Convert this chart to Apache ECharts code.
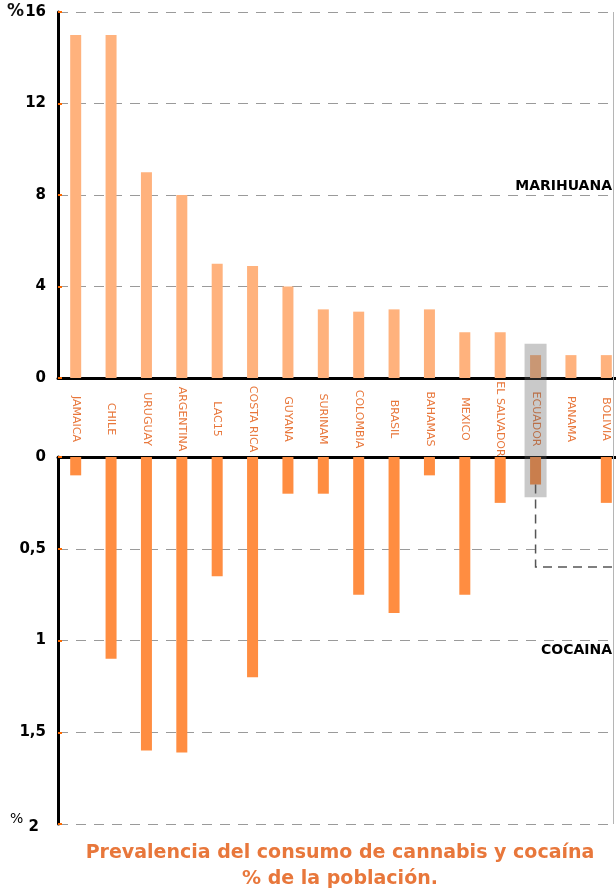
<!DOCTYPE html>
<html>
<head>
<meta charset="utf-8">
<script src="https://cdn.jsdelivr.net/npm/echarts@6/dist/echarts.min.js"></script>
<style>
  html, body { margin: 0; padding: 0; background: #fff; }
  #main { width: 616px; height: 891px; }
</style>
</head>
<body>
<div id="main"></div>
<script>
var categories = ['JAMAICA', 'CHILE', 'URUGUAY', 'ARGENTINA', 'LAC15', 'COSTA RICA', 'GUYANA', 'SURINAM',
    'COLOMBIA', 'BRASIL', 'BAHAMAS', 'MEXICO', 'EL SALVADOR', 'ECUADOR', 'PANAMA', 'BOLIVIA'];
var marihuana = [15, 15, 9, 8, 5, 4.9, 4, 3, 2.9, 3, 3, 2, 2, 1, 1, 1];
var cocaina = [0.1, 1.1, 1.6, 1.61, 0.65, 1.2, 0.2, 0.2, 0.75, 0.85, 0.1, 0.75, 0.25, 0.15, 0, 0.25];
var marihuanaTicks = [0, 16, 4];   // min, max, interval
var cocainaTicks = [0, 2, 0.5];
var highlight = 'ECUADOR';

var font = 'DejaVu Sans';
var orangeLabel = '#E8773B';

var chart = echarts.init(document.getElementById('main'));

var gridLine = { show: true, lineStyle: { color: '#9a9a9a', type: [10, 8], width: 1 } };
var tick = { show: true, inside: true, length: 4, lineStyle: { color: '#FF6A00', width: 2 } };

var option = {
    animation: false,
    textStyle: { fontFamily: font },
    grid: [
        { left: 58, width: 566, top: 12, height: 366, outerBoundsMode: 'none', containLabel: false },
        { left: 58, width: 566, top: 457, height: 367, outerBoundsMode: 'none', containLabel: false }
    ],
    title: {
        text: 'Prevalencia del consumo de cannabis y cocaína\n% de la población.',
        left: 335,
        textAlign: 'center',
        top: 835,
        textStyle: { color: orangeLabel, fontSize: 19, fontWeight: 'bold', fontFamily: font, lineHeight: 26 }
    },
    xAxis: [{
        type: 'category', gridIndex: 0, data: categories,
        axisLine: { lineStyle: { color: '#000', width: 3 } },
        axisTick: { show: false },
        axisLabel: {
            interval: 0, rotate: -90, margin: 41, align: 'center', verticalAlign: 'middle',
            color: orangeLabel, fontSize: 11, fontFamily: font
        }
    }, {
        type: 'category', gridIndex: 1, data: categories, position: 'top',
        axisLine: { lineStyle: { color: '#000', width: 3 } },
        axisTick: { show: false },
        axisLabel: { show: false }
    }],
    yAxis: [{
        type: 'value', gridIndex: 0,
        min: marihuanaTicks[0], max: marihuanaTicks[1], interval: marihuanaTicks[2],
        axisLine: { show: true, lineStyle: { color: '#000', width: 3 } },
        axisTick: tick,
        splitLine: gridLine,
        axisLabel: {
            margin: 12, color: '#000', fontSize: 15, fontWeight: 'bold', fontFamily: font,
            formatter: function (v) { return v === 16 ? '{p|%}{n|16}' : String(v); },
            rich: {
                p: { fontSize: 17, fontWeight: 'bold', color: '#111', fontFamily: font, padding: [0, 1, 0, 0] },
                n: { fontSize: 15, fontWeight: 'bold', color: '#000', fontFamily: font }
            }
        }
    }, {
        type: 'value', gridIndex: 1, inverse: true,
        min: cocainaTicks[0], max: cocainaTicks[1], interval: cocainaTicks[2],
        axisLine: { show: true, lineStyle: { color: '#000', width: 3 } },
        axisTick: tick,
        splitLine: gridLine,
        axisLabel: {
            margin: 12, color: '#000', fontSize: 15, fontWeight: 'bold', fontFamily: font,
            formatter: function (v) { return v === 2 ? '{p|%} {n|2}' : String(v).replace('.', ','); },
            rich: {
                p: { fontSize: 14, fontWeight: 'normal', color: '#000', fontFamily: font, padding: [0, 0, 10, 0] },
                n: { fontSize: 15, fontWeight: 'bold', color: '#000', fontFamily: font, padding: [6, 7, 0, 0] }
            }
        }
    }],
    series: [{
        name: 'Marihuana', type: 'bar', xAxisIndex: 0, yAxisIndex: 0,
        data: marihuana, barWidth: 11,
        itemStyle: { color: '#FFB27D' }
    }, {
        name: 'Cocaína', type: 'bar', xAxisIndex: 1, yAxisIndex: 1,
        data: cocaina, barWidth: 11,
        itemStyle: { color: '#FF8D41' }
    }]
};

chart.setOption(option);

// highlight box + dashed callout, positioned from the axes
var a = chart.convertToPixel({ gridIndex: 0 }, [highlight, 1.5]);
var b = chart.convertToPixel({ gridIndex: 1 }, [highlight, 0.22]);
var c = chart.convertToPixel({ gridIndex: 1 }, [highlight, cocaina[categories.indexOf(highlight)]]);
var d = chart.convertToPixel({ gridIndex: 1 }, [highlight, 0.6]);

chart.setOption({
    graphic: [{
        type: 'rect', z: 100,
        shape: { x: a[0] - 11, y: a[1], width: 22, height: b[1] - a[1] },
        style: { fill: 'rgba(100,100,100,0.35)' }
    }, {
        type: 'polyline', z: 100,
        shape: { points: [[c[0], c[1]], [d[0], d[1]], [613, d[1]]] },
        style: { stroke: '#555', lineWidth: 1.5, lineDash: [9, 6], fill: null }
    }, {
        type: 'rect', z: 95,
        shape: { x: 614, y: 0, width: 4, height: 370 },
        style: { fill: '#fff' }
    }, {
        type: 'rect', z: 95,
        shape: { x: 614, y: 460, width: 4, height: 370 },
        style: { fill: '#fff' }
    }, {
        type: 'line', z: 96,
        shape: { x1: 613.5, y1: 12, x2: 613.5, y2: 824 },
        style: { stroke: '#b5b5b5', lineWidth: 1 }
    }, {
        type: 'text', z: 100, right: 4, top: 179,
        style: { text: 'MARIHUANA', font: 'bold 14px "DejaVu Sans"', fill: '#000' }
    }, {
        type: 'text', z: 100, right: 4, top: 643,
        style: { text: 'COCAINA', font: 'bold 14px "DejaVu Sans"', fill: '#000' }
    }]
});
</script>
</body>
</html>
